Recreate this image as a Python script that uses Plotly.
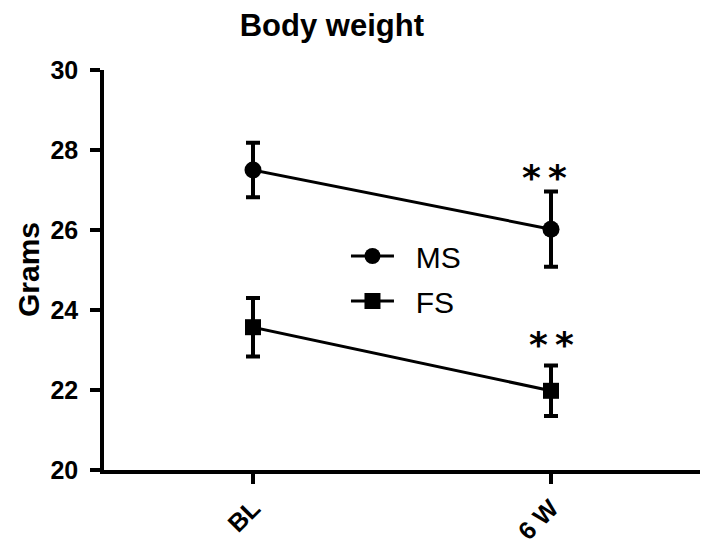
import plotly.graph_objects as go

categories = ["BL", "6 W"]
ms_mean = [27.5, 26.02]
ms_err = [0.68, 0.94]
fs_mean = [23.57, 21.98]
fs_err = [0.73, 0.63]
series_names = ["MS", "FS"]
y_ticks = [20, 22, 24, 26, 28, 30]
sig_labels = ["*\u2009*", "*\u2009*"]
y_title = "Grams"

FONT = "Liberation Sans, Arial, sans-serif"

fig = go.Figure()
for name, mean, err, sym, msize in [(series_names[0], ms_mean, ms_err, "circle", 17),
                                    (series_names[1], fs_mean, fs_err, "square", 16)]:
    fig.add_trace(go.Scatter(
        x=[0, 1], y=mean, name="&nbsp;&nbsp;" + name, mode="lines+markers",
        legendgroup=name,
        line=dict(color="black", width=3),
        marker=dict(symbol=sym, size=msize, color="black"),
        error_y=dict(type="data", array=err, visible=True, color="black",
                     thickness=4, width=7),
    ))

# significance markers above 6 W
for mean, err, lab, ys, xs in [(ms_mean, ms_err, sig_labels[0], -8, -7),
                               (fs_mean, fs_err, sig_labels[1], -1, 0)]:
    fig.add_annotation(x=1, y=mean[1] + err[1], yshift=ys, xshift=xs, text=lab,
                       showarrow=False, yanchor="bottom",
                       font=dict(family="DejaVu Sans", size=36, color="black", weight="bold"))

# y-axis title
fig.add_annotation(xref="paper", yref="paper", x=-0.1275, y=0.5, text="<b>" + y_title + "</b>",
                   textangle=-90, showarrow=False, xanchor="center", yanchor="middle",
                   borderpad=0, font=dict(family=FONT, size=30, color="black"))

fig.update_layout(
    width=701, height=544,
    margin=dict(l=96, r=9, t=62, b=82),
    plot_bgcolor="white", paper_bgcolor="white",
    title=dict(text="<b>Body weight</b>", x=0.462, xanchor="center",
               yref="container", y=1, yanchor="top", pad=dict(t=6),
               font=dict(family=FONT, size=31, color="black")),
    showlegend=True,
    legend=dict(x=0.406, y=0.60, xanchor="left", yanchor="top", bgcolor="rgba(0,0,0,0)",
                font=dict(family=FONT, size=30, color="black"), itemwidth=43,
                tracegroupgap=3),
    xaxis=dict(range=[-0.5, 1.5], tickmode="array", tickvals=[0, 1], ticktext=categories,
               tickangle=-45, showline=True, linecolor="black", linewidth=3.5,
               ticks="outside", ticklen=10, tickwidth=3.5, tickcolor="black",
               showgrid=False, zeroline=False, ticklabelstandoff=0, automargin=False,
               tickfont=dict(family=FONT, size=25, color="black", weight="bold")),
    yaxis=dict(range=[20, 30], tickvals=y_ticks, showline=True, linecolor="black",
               linewidth=3.5, ticks="outside", ticklen=10, tickwidth=3.5, tickcolor="black",
               showgrid=False, zeroline=False, ticklabelstandoff=7, automargin=False,
               tickfont=dict(family=FONT, size=25, color="black", weight="bold")),
)

fig.write_html("out.html")
